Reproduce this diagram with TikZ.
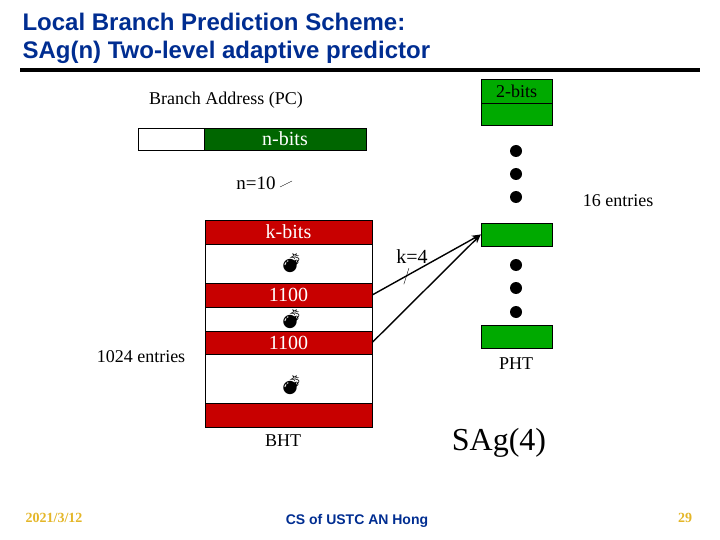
\documentclass[tikz,border=0pt]{standalone}
\usepackage{fontspec}
\setmainfont{Liberation Serif}
\setsansfont{Liberation Sans}
\newfontfamily\emojifont{Noto Emoji}
\usepackage{tikz}
\usetikzlibrary{arrows.meta, positioning}

\definecolor{titleblue}{RGB}{0,45,145}
\definecolor{pcgreen}{RGB}{0,102,0}
\definecolor{phtgreen}{RGB}{0,170,0}
\definecolor{bhtred}{RGB}{200,0,0}
\definecolor{footgold}{RGB}{228,182,40}

\begin{document}
\begin{tikzpicture}[x=1pt, y=-1pt,
    redcell/.style={draw=black, fill=bhtred, text=white, minimum width=167pt, inner sep=0pt, font=\fontsize{20}{22}\selectfont},
    whitecell/.style={draw=black, fill=white, minimum width=167pt, inner sep=0pt},
    greencell/.style={draw=black, fill=phtgreen, minimum width=71pt, inner sep=0pt, font=\fontsize{18}{20}\selectfont},
    bomb/.style={font=\emojifont\fontsize{19}{19}\selectfont, inner sep=0pt},
    lbl/.style={font=\fontsize{18}{20}\selectfont, inner sep=0pt}]
    \useasboundingbox (0,0) rectangle (720,540);

    % Title and rule
    \node[anchor=west, align=left, text=titleblue, font=\sffamily\bfseries\fontsize{24}{28}\selectfont] (title) at (19,38)
        {Local Branch Prediction Scheme:\\SAg(n) Two-level adaptive predictor};
    \draw[line width=4pt] (20,70) -- (700,70);

    % Branch address register
    \node[lbl] (pclabel) at (226,100) {Branch Address (PC)};
    \node[draw=black, fill=white, minimum width=66pt, minimum height=22pt, inner sep=0pt] (pclow) at (171,139) {};
    \node[draw=black, fill=pcgreen, text=white, minimum width=162pt, minimum height=22pt, inner sep=0pt,
          font=\fontsize{20}{22}\selectfont] (nbits) at (285,139) {n-bits};
    \node[font=\fontsize{19}{21}\selectfont, inner sep=0pt] (nten) at (256,183) {n=10};
    \draw[thin] (280,187) -- (292,181);

    % BHT
    \node[redcell, minimum height=24pt] (kbits) at (288.5,232) {k-bits};
    \node[whitecell, minimum height=39pt] (bhtA) at (288.5,263.5) {};
    \node[redcell, minimum height=24pt] (histA) at (288.5,295) {1100};
    \node[whitecell, minimum height=24pt] (bhtB) at (288.5,319) {};
    \node[redcell, minimum height=23pt] (histB) at (288.5,342.5) {1100};
    \node[whitecell, minimum height=49pt] (bhtC) at (288.5,378.5) {};
    \node[redcell, minimum height=24pt] (histC) at (288.5,415) {};
    \node[bomb] at ([xshift=3pt]bhtA) {💣};
    \node[bomb] at ([xshift=3pt]bhtB) {💣};
    \node[bomb] at ([xshift=3pt, yshift=-7pt]bhtC) {💣};
    \node[lbl] (bhtlabel) at (283,441) {BHT};
    \node[lbl] (bhtsize) at (141,357) {1024 entries};

    % PHT
    \node[greencell, minimum height=24pt] (twobits) at (516.5,91) {2-bits};
    \node[greencell, minimum height=22pt] (phtA) at (516.5,114) {};
    \node[greencell, minimum height=23pt] (phtB) at (516.5,234.5) {};
    \node[greencell, minimum height=23pt] (phtC) at (516.5,336.5) {};
    \foreach \y in {151,174,197,265,288,312}
        \fill (516,\y) circle (6pt);
    \node[lbl] (phtsize) at (618,201) {16 entries};
    \node[lbl] (phtlabel) at (516,364) {PHT};

    % index into PHT
    \draw[-{Stealth[length=9pt,width=7pt]}, line width=1.4pt] (histA.east) -- coordinate[pos=0.31] (kcut) (phtB.west);
    \draw[-{Stealth[length=9pt,width=7pt]}, line width=1.4pt] (histB.east) -- (phtB.west);
    \draw[thin] ([shift={(-2,8)}]kcut) -- ([shift={(3,-8)}]kcut);
    \node[font=\fontsize{20}{22}\selectfont, inner sep=0pt] (kfour) at (412,257) {k=4};

    \node[font=\fontsize{32}{34}\selectfont, inner sep=0pt] (sag) at (499,443) {SAg(4)};

    % footer
    \node[text=footgold, font=\bfseries\fontsize{14}{16}\selectfont, inner sep=0pt] (date) at (54,518) {2021/3/12};
    \node[text=titleblue, font=\sffamily\bfseries\fontsize{14}{16}\selectfont, inner sep=0pt] (footer) at (357,521) {CS of USTC AN Hong};
    \node[text=footgold, font=\bfseries\fontsize{14}{16}\selectfont, inner sep=0pt] (page) at (685,518) {29};
\end{tikzpicture}
\end{document}
